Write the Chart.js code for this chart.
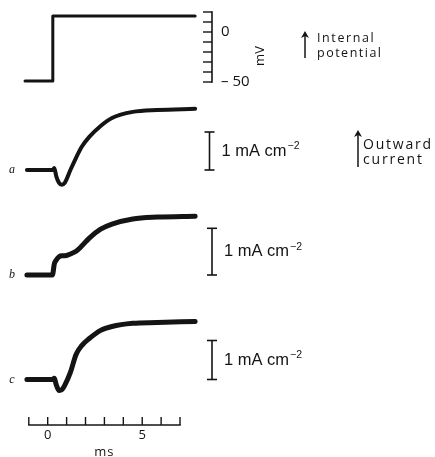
<!DOCTYPE html>
<html>
<head>
<meta charset="utf-8">
<script src="https://cdn.jsdelivr.net/npm/chart.js@4"></script>
<style>
  html,body{margin:0;padding:0;background:#fff;}
  canvas{display:block;}
</style>
</head>
<body>
<canvas id="clamp" width="435" height="457"></canvas>
<script>
/* -------------------- Data -------------------- */
// voltage step, ms / mV
const stepTime = [-1.2, 0.25, 0.27, 7.8];
const stepMv   = [-49, -49, 16, 16];

// membrane current traces, ms / mA cm^-2
const timeMs   = [-1.1, 0.25, 0.35, 0.45, 0.6, 0.75, 0.9, 1.2, 1.5, 1.8, 2.2, 2.8, 3.4, 4.5, 5.8, 7.8];
const currentA = [0, 0, 0.05, -0.16, -0.34, -0.39, -0.34, 0, 0.32, 0.61, 0.87, 1.16, 1.37, 1.53, 1.58, 1.61];
const currentB = [0, 0, 0.24, 0.32, 0.39, 0.41, 0.41, 0.45, 0.51, 0.62, 0.79, 0.98, 1.09, 1.20, 1.24, 1.26];
const currentC = [0, 0, 0.03, -0.13, -0.28, -0.26, -0.15, 0.18, 0.64, 0.87, 1.05, 1.26, 1.36, 1.44, 1.46, 1.49];

const traceNames = ['a', 'b', 'c'];
const mvTicks = [20, 10, 0, -10, -20, -30, -40, -50];
const mvLabels = [0, -50];
const msTicks = [-1, 0, 1, 2, 3, 4, 5, 6, 7];
const msLabels = [0, 5];

/* -------------------- Helpers -------------------- */
const INK = '#141414';
function pts(xs, ys){ return xs.map((x,i)=>({x, y:ys[i]})); }
function trace(data, axis, w){
  return { data, yAxisID:axis, borderColor:INK, borderWidth:w, pointRadius:0,
           cubicInterpolationMode:'monotone', borderCapStyle:'round', borderJoinStyle:'round', fill:false };
}
function txt(ctx, s, x, y, font, align, spacing){
  ctx.font = font; ctx.textAlign = align || 'left'; ctx.textBaseline = 'middle';
  ctx.letterSpacing = (spacing||0) + 'px';
  ctx.fillText(s, x, y);
  ctx.letterSpacing = '0px';
}
function line(ctx, x1, y1, x2, y2, w){
  ctx.lineWidth = w; ctx.beginPath(); ctx.moveTo(x1,y1); ctx.lineTo(x2,y2); ctx.stroke();
}
function arrowUp(ctx, x, yTop, yBot){
  line(ctx, x, yTop+1, x, yBot, 1.5);
  ctx.beginPath(); ctx.moveTo(x, yTop-1); ctx.lineTo(x-4, yTop+6); ctx.lineTo(x, yTop+4); ctx.lineTo(x+4, yTop+6); ctx.closePath(); ctx.fill();
}

/* -------------------- Scale bars & labels -------------------- */
const decorations = {
  id:'decorations',
  afterDatasetsDraw(chart){
    const ctx = chart.ctx, s = chart.scales;
    ctx.save();
    ctx.strokeStyle = INK; ctx.fillStyle = INK; ctx.lineCap = 'butt';

    // voltage scale
    const vx = 212;
    line(ctx, vx, s.yV.getPixelForValue(mvTicks[0])-0.7, vx, s.yV.getPixelForValue(mvTicks[mvTicks.length-1])+0.7, 1.6);
    mvTicks.forEach(v=>{ const y=s.yV.getPixelForValue(v); line(ctx, vx-9, y, vx, y, 1.4); });
    mvLabels.forEach(v=>{
      const y = s.yV.getPixelForValue(v);
      txt(ctx, v===0 ? '0' : '\u2013 50', 221, y, '15px "Open Sans"', 'left');
    });
    ctx.save(); ctx.translate(260, 56); ctx.rotate(-Math.PI/2);
    txt(ctx, 'mV', 0, 0, '13px "Open Sans"', 'center'); ctx.restore();

    arrowUp(ctx, 305, 32, 58);
    txt(ctx, 'Internal', 317, 38, '12.5px "Open Sans"', 'left', 1.6);
    txt(ctx, 'potential', 317, 53, '12.5px "Open Sans"', 'left', 1.5);

    arrowUp(ctx, 358, 131, 167);
    txt(ctx, 'Outward', 363, 145, '14px "Open Sans"', 'left', 1.8);
    txt(ctx, 'current', 363, 160, '14px "Open Sans"', 'left', 1.8);

    // current scale bars, 1 mA cm^-2 each
    [['yA',209.5],['yB',212],['yC',212]].forEach(([id,x],i)=>{
      const y0 = s[id].getPixelForValue(0), y1 = s[id].getPixelForValue(1);
      line(ctx, x, y0, x, y1, 1.6);
      line(ctx, x-5, y0, x+5, y0, 1.6);
      line(ctx, x-5, y1, x+5, y1, 1.6);
      const ym = (y0+y1)/2, tx = x+12;
      txt(ctx, '1 mA cm', tx, ym, '16.5px "Liberation Sans"', 'left');
      ctx.font = '16.5px "Liberation Sans"';
      const w = ctx.measureText('1 mA cm').width;
      txt(ctx, '\u22122', tx+w+1, ym-5, '10.5px "Liberation Sans"', 'left');
      // trace letter
      txt(ctx, traceNames[i], 12, s[id].getPixelForValue(0), 'italic 12px "Liberation Serif"', 'center');
    });

    // time scale
    const ty = 425;
    line(ctx, s.x.getPixelForValue(msTicks[0])-0.7, ty, s.x.getPixelForValue(msTicks[msTicks.length-1])+0.7, ty, 1.6);
    msTicks.forEach(t=>{ const x=s.x.getPixelForValue(t); line(ctx, x, ty-8, x, ty, 1.4); });
    msLabels.forEach(t=> txt(ctx, String(t), s.x.getPixelForValue(t), 435, '13px "Open Sans"', 'center'));
    txt(ctx, 'ms', s.x.getPixelForValue(3), 452, '13px "Open Sans"', 'center', 1);

    ctx.restore();
  }
};

/* -------------------- Chart -------------------- */
new Chart(document.getElementById('clamp'), {
  type:'line',
  data:{ datasets:[
    Object.assign(trace(pts(stepTime, stepMv), 'yV', 3), {cubicInterpolationMode:'default', tension:0}),
    trace(pts(timeMs, currentA), 'yA', 4),
    trace(pts(timeMs, currentB), 'yB', 5),
    trace(pts(timeMs, currentC), 'yC', 5)
  ]},
  options:{
    responsive:false, animation:false, devicePixelRatio:1,
    layout:{ padding:0 },
    plugins:{ legend:{display:false}, tooltip:{enabled:false} },
    elements:{ line:{ tension:0.4 } },
    scales:{
      // 0 ms at x=47.7 px, 18.9 px per ms
      x: { type:'linear', display:false, min:-2.524, max:20.49 },
      // each trace gets its own vertical band through its own axis range
      yV:{ type:'linear', display:false, min:-425, max:32 },
      yA:{ type:'linear', display:false, min:-7.5526, max:4.4737 },
      yB:{ type:'linear', display:false, min:-3.8972, max:5.8887 },
      yC:{ type:'linear', display:false, min:-1.9872, max:9.7308 }
    }
  },
  plugins:[decorations]
});
</script>
</body>
</html>
